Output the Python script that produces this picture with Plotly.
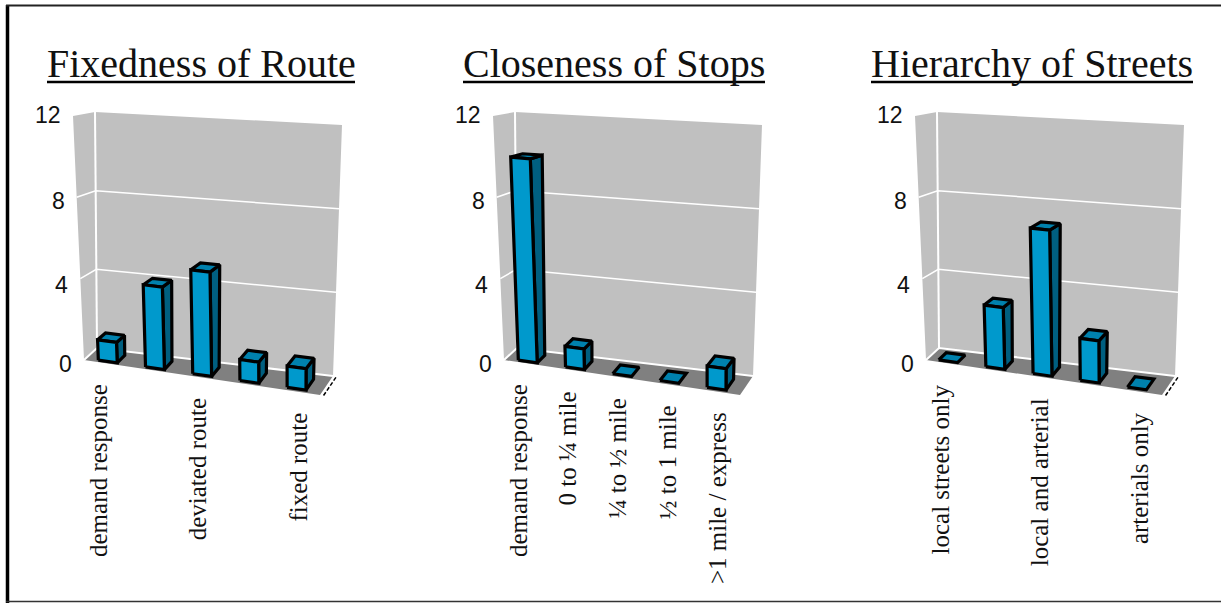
import plotly.graph_objects as go

W, H = 1221, 603

# Survey counts per panel
panel_titles = ["Fixedness of Route", "Closeness of Stops", "Hierarchy of Streets"]
route_values = [1, 4, 5, 1, 1]
stops_values = [10, 1, 0, 0, 1]
street_values = [0, 3, 7, 2, 0]
route_labels = ["demand response", "", "deviated route", "", "fixed route"]
stops_labels = ["demand response", "0 to ¼ mile", "¼ to ½ mile", "½ to 1 mile", ">1 mile / express"]
street_labels = ["local streets only", "", "local and arterial", "", "arterials only"]
value_ticks = [0, 4, 8, 12]

# Panel placement on the page: horizontal offset and width in pixels
PANEL_X = [0, 420, 842]
PANEL_W = [400, 400, 379]
TITLE_CX = [201, 194, 190]
UNDERLINE = [(47, 355), (463, 765), (871, 1193)]
BAR_SHIFT = [-0.007, -0.007, -0.014]

# Corners of the pseudo-3D box as (x, y) at value 0 and value 12
BOX = {
    "back_left": ((97, 348), (95, 112)),
    "back_right": ((333, 376), (342, 125)),
    "front_left": ((84, 360), (73, 116)),
    "front_right": ((320, 395), (320, 137)),
}
VMAX = 12
BAR_HALF = 0.04
DEPTH_FRONT, DEPTH_BACK = 0.14, 0.72

# Small vertical nudges keeping the value labels beside their gridlines
TICK_NUDGE = {0: 4, 4: 6, 8: 4, 12: -1.5}

WALL = "#c0c0c0"
FLOOR = "#808080"
BLUE = "#0099cc"
BLUE_SIDE = "#005f80"
BLUE_TOP = "#0081ad"
OUTLINE = 3.2


def project(u, d, v):
    """Map box position (across, depth, value) to local axis coordinates."""
    t = v / VMAX
    out = []
    for k in (0, 1):
        corner = lambda name: BOX[name][0][k] * (1 - t) + BOX[name][1][k] * t
        front = corner("front_left") * (1 - u) + corner("front_right") * u
        back = corner("back_left") * (1 - u) + corner("back_right") * u
        out.append(front * (1 - d) + back * d)
    return out


def poly_trace(points, fill, axis, line_color=None, line_width=0):
    xs = []
    ys = []
    for poly in points:
        for p in poly + [poly[0]]:
            xs.append(p[0])
            ys.append(p[1])
        xs.append(None)
        ys.append(None)
    return go.Scatter(
        x=xs, y=ys, mode="lines", fill="toself", fillcolor=fill,
        line=dict(color=line_color or fill, width=line_width, shape="linear"),
        hoverinfo="skip", showlegend=False, xaxis=f"x{axis}", yaxis=f"y{axis}",
    )


def line_trace(points, color, width, axis, dash="solid"):
    return go.Scatter(
        x=[p[0] for p in points], y=[p[1] for p in points], mode="lines",
        line=dict(color=color, width=width, dash=dash),
        hoverinfo="skip", showlegend=False, xaxis=f"x{axis}", yaxis=f"y{axis}",
    )


fig = go.Figure()
annotations = []
shapes = []
layout_axes = {}

panels = [
    (route_values, route_labels),
    (stops_values, stops_labels),
    (street_values, street_labels),
]

for idx, (values, labels) in enumerate(panels):
    ax = idx + 1
    xname = "xaxis" if idx == 0 else f"xaxis{ax}"
    yname = "yaxis" if idx == 0 else f"yaxis{ax}"
    layout_axes[xname] = dict(
        domain=[PANEL_X[idx] / W, (PANEL_X[idx] + PANEL_W[idx]) / W],
        range=[0, PANEL_W[idx]], visible=False, fixedrange=True,
    )
    layout_axes[yname] = dict(
        domain=[0, 1], range=[H, 0], visible=False, fixedrange=True,
    )
    xref, yref = f"x{ax}", f"y{ax}"

    # Walls and floor
    back_wall = [project(0, 1, 0), project(1, 1, 0), project(1, 1, VMAX), project(0, 1, VMAX)]
    side_wall = [project(0, 0, 0), project(0, 1, 0), project(0, 1, VMAX), project(0, 0, VMAX)]
    floor = [project(0, 0, 0), project(1, 0, 0), project(1, 1, 0), project(0, 1, 0)]
    fig.add_trace(poly_trace([back_wall, side_wall], WALL, ax))
    fig.add_trace(poly_trace([floor], FLOOR, ax))

    # White gridlines on both walls, plus the corner and floor seams
    for v in value_ticks[1:-1]:
        fig.add_trace(line_trace(
            [project(0, 0, v), project(0, 1, v), project(1, 1, v)], "white", 1.5, ax))
    fig.add_trace(line_trace([project(0, 1, 0), project(0, 1, VMAX)], "white", 2, ax))
    fig.add_trace(line_trace(
        [project(0, 0, 0), project(0, 1, 0), project(1, 1, 0)], "white", 2, ax))

    # Dashed edge on the right of the floor
    if idx != 1:
        fig.add_trace(line_trace(
            [project(1.015, 0.0, 0), project(1.015, 0.95, 0)], "black", 1.5, ax, "4px,2px"))

    # Bars: side and top faces first, front faces on top
    n = len(values)
    sides, tops, fronts = [], [], []
    for i, val in enumerate(values):
        u = (i + 0.5) / n + BAR_SHIFT[idx]
        u0, u1 = u - BAR_HALF, u + BAR_HALF
        tops.append([project(u0, DEPTH_FRONT, val), project(u1, DEPTH_FRONT, val),
                     project(u1, DEPTH_BACK, val), project(u0, DEPTH_BACK, val)])
        if val > 0:
            sides.append([project(u1, DEPTH_FRONT, 0), project(u1, DEPTH_BACK, 0),
                          project(u1, DEPTH_BACK, val), project(u1, DEPTH_FRONT, val)])
            fronts.append([project(u0, DEPTH_FRONT, 0), project(u1, DEPTH_FRONT, 0),
                           project(u1, DEPTH_FRONT, val), project(u0, DEPTH_FRONT, val)])
    fig.add_trace(poly_trace(sides, BLUE_SIDE, ax, "black", OUTLINE))
    fig.add_trace(poly_trace(tops, BLUE_TOP, ax, "black", OUTLINE))
    fig.add_trace(poly_trace(fronts, BLUE, ax, "black", OUTLINE))

    # Value labels follow the front edge of the side wall
    for v in value_ticks:
        px, py = project(0, 0, v)
        annotations.append(dict(
            x=px - 11, y=py + TICK_NUDGE[v], xref=xref, yref=yref, text=str(v),
            showarrow=False, xanchor="right", yanchor="middle", borderpad=0,
            font=dict(family="Liberation Sans", size=23, color="#111111"),
        ))

    # Category labels hang below the floor edge
    for i, text in enumerate(labels):
        if not text:
            continue
        u = (i + 0.5) / n
        _, py = project(u, 0, 0)
        annotations.append(dict(
            x=98 + i * 49.9, y=py + 19, xref=xref, yref=yref, text=text, showarrow=False,
            textangle=-90, xanchor="center", yanchor="top",
            font=dict(family="Liberation Serif", size=25, color="#111111"),
        ))

    # Panel title and its underline
    annotations.append(dict(
        x=TITLE_CX[idx], y=63, xref=xref, yref=yref, text=panel_titles[idx], showarrow=False,
        xanchor="center", yanchor="middle",
        font=dict(family="Liberation Serif", size=40, color="#111111"),
    ))
    x0, x1 = UNDERLINE[idx]
    shapes.append(dict(
        type="line", xref="paper", yref="paper", x0=x0 / W, x1=x1 / W,
        y0=1 - 82 / H, y1=1 - 82 / H, line=dict(color="black", width=2.5),
    ))

# Page frame: heavy left rule, thin rules elsewhere
shapes += [
    dict(type="line", xref="paper", yref="paper", x0=7.5 / W, x1=7.5 / W,
         y0=1 - 5 / H, y1=0, line=dict(color="black", width=3.5)),
    dict(type="line", xref="paper", yref="paper", x0=6 / W, x1=1,
         y0=1 - 5.5 / H, y1=1 - 5.5 / H, line=dict(color="#222222", width=2)),
    dict(type="line", xref="paper", yref="paper", x0=6 / W, x1=1,
         y0=1 - 601.5 / H, y1=1 - 601.5 / H, line=dict(color="#333333", width=1.5)),
]

fig.update_layout(
    width=W, height=H, margin=dict(l=0, r=0, t=0, b=0),
    paper_bgcolor="white", plot_bgcolor="white", showlegend=False,
    annotations=annotations, shapes=shapes, **layout_axes,
)

fig.write_html("out.html", config={"displayModeBar": False})
